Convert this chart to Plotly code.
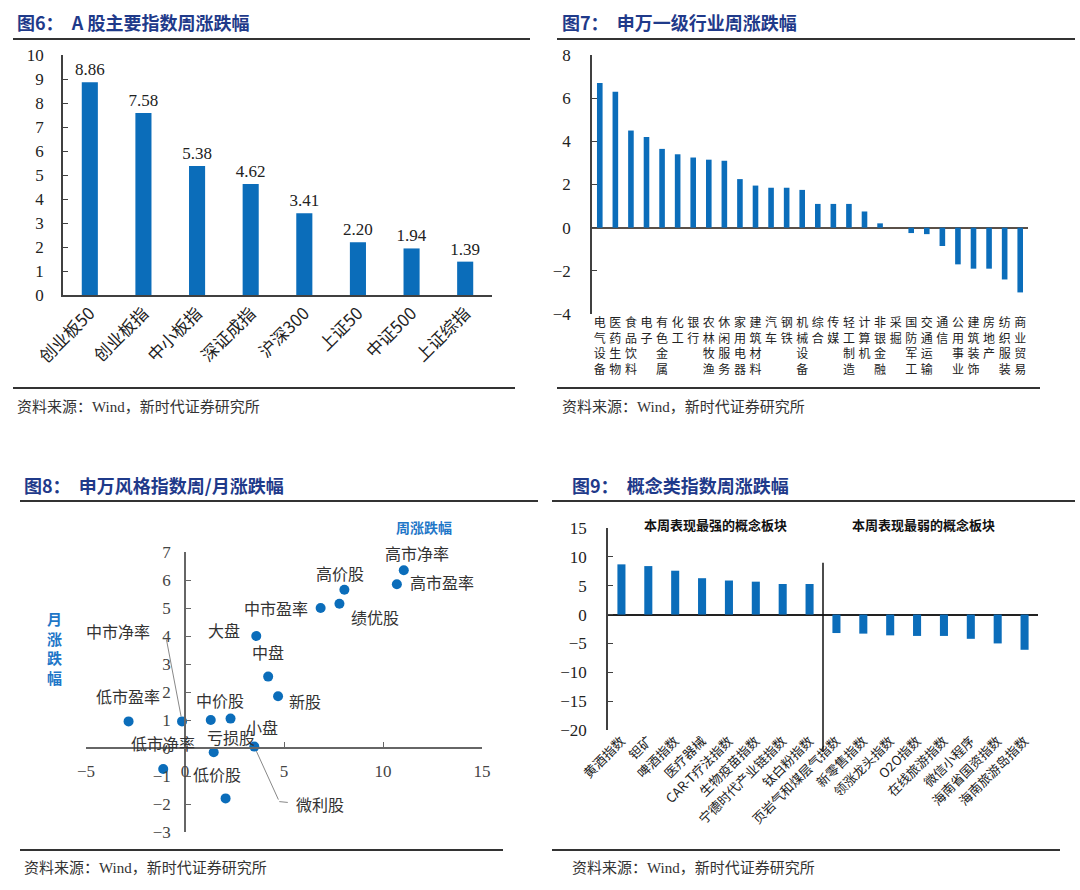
import plotly.graph_objects as go

W, H = 1080, 890
def fx(p):
    return p / W
def fy(p):
    return 1 - p / H

SERIF = "Liberation Serif, Noto Sans CJK SC"
CJK = "Noto Sans CJK SC"
BLUE = "#0B6DBA"
NAVY = "#1F3A8A"
AXC = "#404040"

# ---------------- data ----------------
idx6_names = ["创业板50", "创业板指", "中小板指", "深证成指", "沪深300", "上证50", "中证500", "上证综指"]
idx6_vals = [8.86, 7.58, 5.38, 4.62, 3.41, 2.20, 1.94, 1.39]

ind7_names = ["电气设备", "医药生物", "食品饮料", "电子", "有色金属", "化工", "银行", "农林牧渔",
              "休闲服务", "家用电器", "建筑材料", "汽车", "钢铁", "机械设备", "综合", "传媒",
              "轻工制造", "计算机", "非银金融", "采掘", "国防军工", "交通运输", "通信", "公用事业",
              "建筑装饰", "房地产", "纺织服装", "商业贸易"]
ind7_vals = [6.7, 6.3, 4.5, 4.2, 3.65, 3.4, 3.25, 3.15, 3.1, 2.25, 1.95, 1.85, 1.85, 1.75,
             1.1, 1.1, 1.1, 0.75, 0.2, 0.0, -0.25, -0.3, -0.85, -1.7, -1.9, -1.9, -2.4, -3.0]

style8_names = ["高市净率", "高市盈率", "高价股", "绩优股", "中市盈率", "大盘", "中盘", "新股",
                "中价股", "小盘", "中市净率", "低市盈率", "亏损股", "微利股", "低市净率", "低价股"]
style8_week = [11.05, 10.7, 8.05, 7.8, 6.85, 3.6, 4.2, 4.7, 1.3, 2.3, -0.15, -2.85, 1.45, 3.5, -1.1, 2.05]
style8_month = [6.35, 5.85, 5.65, 5.15, 5.0, 4.0, 2.55, 1.85, 1.0, 1.05, 0.95, 0.95, -0.15, 0.05, -0.75, -1.8]

con9_names = ["黄酒指数", "钽矿", "啤酒指数", "医疗器械", "CAR-T疗法指数", "生物疫苗指数",
              "宁德时代产业链指数", "钛白粉指数", "页岩气和煤层气指数", "新零售指数", "领涨龙头指数",
              "O2O指数", "在线旅游指数", "微信小程序", "海南省国资指数", "海南旅游岛指数"]
con9_vals = [8.7, 8.4, 7.6, 6.3, 5.9, 5.7, 5.3, 5.3, -3.2, -3.3, -3.6, -3.7, -3.7, -4.2, -5.0, -6.1]

titles = ["图6：  A 股主要指数周涨跌幅", "图7：  申万一级行业周涨跌幅",
          "图8：  申万风格指数周/月涨跌幅", "图9：  概念类指数周涨跌幅"]
source_text = "资料来源：Wind，新时代证券研究所"

# ---------------- layout geometry (pixels) ----------------
dom6 = dict(x=[fx(63), fx(492)], y=[fy(295), fy(55)])
dom7 = dict(x=[fx(592), fx(1028)], y=[fy(314), fy(55)])
dom8 = dict(x=[fx(86), fx(482)], y=[fy(832), fy(552)])
dom9 = dict(x=[fx(608), fx(1038)], y=[fy(730), fy(528)])

r8x = [-5, 15]
r8y = [-3, 7]
r9y = [-20, 15]

fig = go.Figure()

# Panel 6
fig.add_trace(go.Bar(x=idx6_names, y=idx6_vals, xaxis="x", yaxis="y", width=0.3,
                     marker=dict(color=BLUE, line=dict(width=0)),
                     text=[f"{v:.2f}" for v in idx6_vals], textposition="outside",
                     constraintext="none",
                     textfont=dict(family=SERIF, size=17, color="#222"), cliponaxis=False,
                     showlegend=False))
# Panel 7
fig.add_trace(go.Bar(x=ind7_names, y=ind7_vals, xaxis="x2", yaxis="y2", width=0.36,
                     marker=dict(color=BLUE, line=dict(width=0)), showlegend=False))
# Panel 8
fig.add_trace(go.Scatter(x=style8_week, y=style8_month, xaxis="x3", yaxis="y3", mode="markers",
                         marker=dict(color=BLUE, size=10), cliponaxis=False, showlegend=False))
# Panel 9
fig.add_trace(go.Bar(x=con9_names, y=con9_vals, xaxis="x4", yaxis="y4", width=0.3,
                     marker=dict(color=BLUE, line=dict(width=0)), showlegend=False))

pos8_x_axis = dom8["y"][0] + (0 - r8y[0]) / (r8y[1] - r8y[0]) * (dom8["y"][1] - dom8["y"][0])
pos8_y_axis = dom8["x"][0] + (0 - r8x[0]) / (r8x[1] - r8x[0]) * (dom8["x"][1] - dom8["x"][0])

tickfont_num = dict(family=SERIF, size=17, color="#222")

fig.update_layout(
    template="none",
    width=W, height=H, margin=dict(l=0, r=0, t=0, b=0, autoexpand=False),
    paper_bgcolor="white", plot_bgcolor="rgba(0,0,0,0)",
    font=dict(family=SERIF, color="#222"),
    xaxis=dict(domain=dom6["x"], anchor="y", showline=True, linecolor=AXC, linewidth=1.5,
               ticks="", tickangle=-45, tickfont=dict(family=CJK, size=17, color="#222"),
               showgrid=False, zeroline=False, automargin=False),
    yaxis=dict(domain=dom6["y"], anchor="x", range=[0, 10], dtick=1, showline=True, linecolor=AXC,
               linewidth=1.5, ticks="inside", ticklen=5, tickcolor=AXC, tickfont=tickfont_num,
               ticklabelstandoff=14, showgrid=False, zeroline=False, automargin=False),
    xaxis2=dict(domain=dom7["x"], anchor="y2", showline=False, ticks="", tickangle=0,
                tickvals=ind7_names, ticktext=["<br>".join(list(n)) for n in ind7_names],
                tickfont=dict(family=CJK, size=12, color="#222"), showgrid=False, zeroline=False,
                automargin=False),
    yaxis2=dict(domain=dom7["y"], anchor="x2", range=[-4, 8], dtick=2, showline=True, linecolor=AXC,
                linewidth=1.5, ticks="inside", ticklen=5, tickcolor=AXC, tickfont=tickfont_num,
                ticklabelstandoff=16, showgrid=False, zeroline=True, zerolinecolor="#5a5048",
                zerolinewidth=1.5, automargin=False),
    xaxis3=dict(domain=dom8["x"], anchor="free", position=pos8_x_axis, range=r8x, dtick=5,
                showline=True, linecolor="#666", linewidth=1.5, ticks="inside", ticklen=5,
                tickcolor="#666", tickfont=dict(family=SERIF, size=17, color="#444"),
                ticklabelstandoff=8, showgrid=False, zeroline=False, automargin=False),
    yaxis3=dict(domain=dom8["y"], anchor="free", position=pos8_y_axis, range=r8y, dtick=1,
                showline=True, linecolor="#666", linewidth=1.5, ticks="inside", ticklen=5,
                tickcolor="#666", tickfont=dict(family=SERIF, size=17, color="#444"),
                ticklabelstandoff=10, showgrid=False, zeroline=False, automargin=False),
    xaxis4=dict(domain=dom9["x"], anchor="y4", showline=False, ticks="", tickangle=-45,
                tickfont=dict(family=CJK, size=13, color="#222"), showgrid=False, zeroline=False,
                automargin=False),
    yaxis4=dict(domain=dom9["y"], anchor="x4", range=r9y, dtick=5, showline=True, linecolor=AXC,
                linewidth=1.5, ticks="inside", ticklen=5, tickcolor=AXC, tickfont=tickfont_num,
                ticklabelstandoff=16, showgrid=False, zeroline=True, zerolinecolor="#222",
                zerolinewidth=1.5, automargin=False),
)

ann = []
def paper_text(text, x, y, size, color, xanchor="center", family=CJK):
    return dict(text=text, x=fx(x), y=fy(y), xref="paper", yref="paper",
                xanchor=xanchor, yanchor="middle", showarrow=False,
                font=dict(family=family, size=size, color=color))

# Titles
title_pos = [(15, 22), (560, 22), (22, 485), (570, 485)]
for t, (x, y) in zip(titles, title_pos):
    ann.append(paper_text(f"<b>{t}</b>", x, y, 18, NAVY, xanchor="left"))
# Sources
src_pos = [(15, 407), (560, 407), (22, 868), (570, 868)]
for (x, y) in src_pos:
    ann.append(paper_text(source_text, x, y, 15, "#333", xanchor="left", family=SERIF))

# Panel 8 labels (pixel offsets from point to label centre)
lab_off = {
    "高市净率": (13, -17), "高市盈率": (45, -2), "高价股": (-4, -17), "绩优股": (36, 13),
    "中市盈率": (-45, 0), "大盘": (-32, -6), "中盘": (0, -25), "新股": (27, 5),
    "中价股": (9, -20), "小盘": (31, 8), "低市盈率": (-1, -25), "亏损股": (17, -15),
    "低市净率": (0, -26), "低价股": (-9, -24),
    "中市净率": (-64, -90), "微利股": (66, 57),
}
# leader lines (pixel offset of the far end of the line from the point)
leader_off = {"中市净率": (-16, -84), "微利股": (25, 55)}
for n, xv, yv in zip(style8_names, style8_week, style8_month):
    dx, dy = lab_off[n]
    ann.append(dict(text=n, x=xv, y=yv, xref="x3", yref="y3", showarrow=False,
                    xanchor="center", yanchor="middle",
                    xshift=dx, yshift=-dy, font=dict(family=CJK, size=16, color="#333")))
    if n in leader_off:
        lx, ly = leader_off[n]
        ann.append(dict(text=" ", x=xv, y=yv, xref="x3", yref="y3", showarrow=True,
                        ax=lx, ay=ly, arrowhead=0, arrowwidth=1, arrowcolor="#888", standoff=5,
                        font=dict(size=1)))
# short horizontal tail on the 微利股 leader
xv = style8_week[style8_names.index("微利股")]
yv = style8_month[style8_names.index("微利股")]
ann.append(dict(text=" ", x=xv, y=yv, xref="x3", yref="y3", showarrow=True,
                ax=10, ay=1, arrowhead=0, arrowwidth=1, arrowcolor="#888", standoff=0,
                xshift=25, yshift=-55, font=dict(size=1)))

# Panel 8 axis titles
ann.append(paper_text("<b>周涨跌幅</b>", 424, 527, 14, "#1F77C8"))
ann.append(paper_text("<b>月<br>涨<br>跌<br>幅</b>", 54, 648, 15, "#1F77C8"))
# Panel 9 group titles
ann.append(paper_text("<b>本周表现最强的概念板块</b>", 715, 524, 13, "#111"))
ann.append(paper_text("<b>本周表现最弱的概念板块</b>", 923, 524, 13, "#111"))

fig.update_layout(annotations=ann)

# Decorative rules
lines = [
    (13, 530, 39), (557, 1075, 39), (13, 515, 388), (557, 1040, 388),
    (20, 538, 501), (552, 1075, 501), (20, 503, 850), (552, 1060, 850),
]
shapes = []
for x0, x1, y in lines:
    shapes.append(dict(type="line", xref="paper", yref="paper", x0=fx(x0), x1=fx(x1),
                       y0=fy(y), y1=fy(y), line=dict(color="#333", width=2)))
# Separator between strongest/weakest groups in panel 9
sep_top = dom9["y"][0] + (9 - r9y[0]) / (r9y[1] - r9y[0]) * (dom9["y"][1] - dom9["y"][0])
shapes.append(dict(type="line", xref="x4", yref="paper", x0=7.5, x1=7.5,
                   y0=sep_top, y1=fy(752), line=dict(color="#111", width=1.5)))
fig.update_layout(shapes=shapes)

fig.write_html("out.html", config={"displayModeBar": False},
               post_script="document.body.style.margin='0';")
